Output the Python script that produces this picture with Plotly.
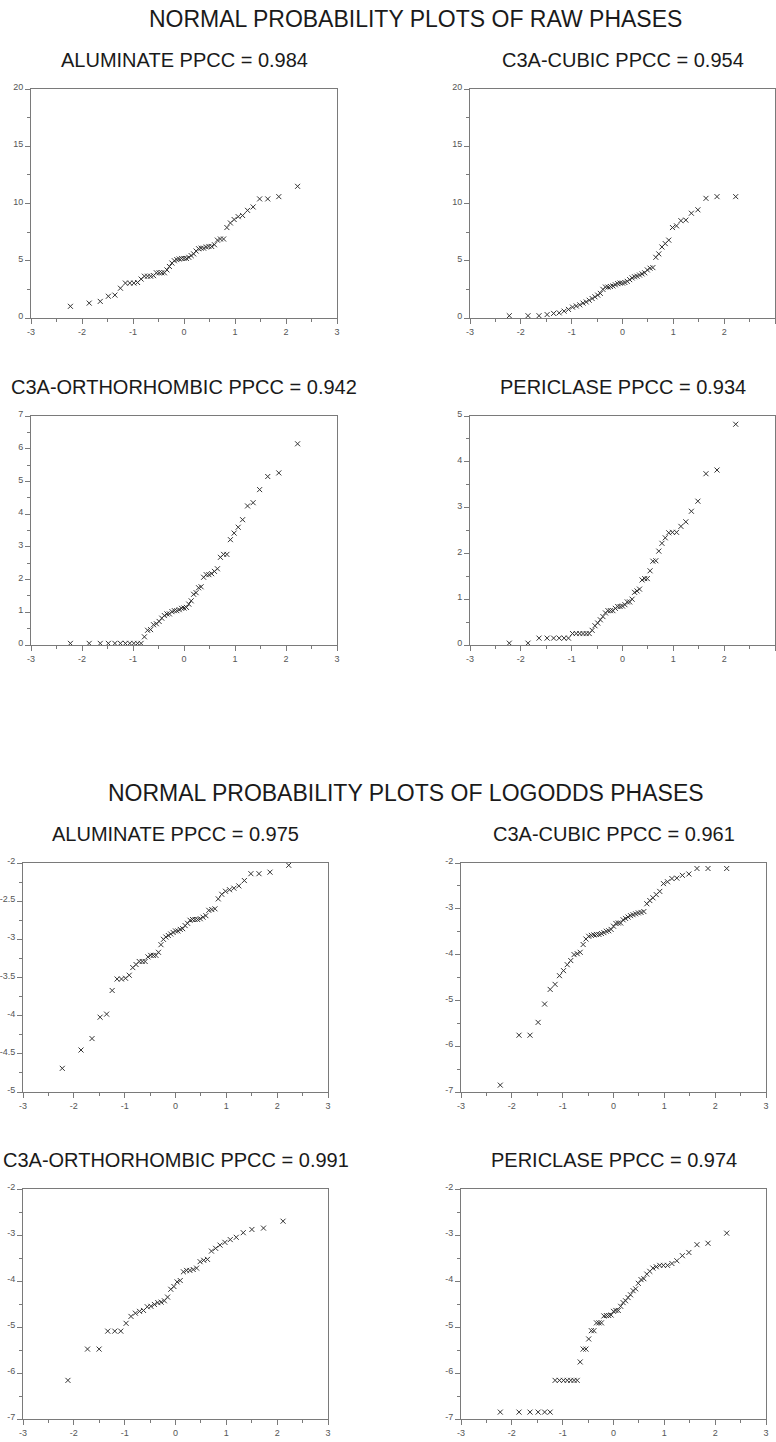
import plotly.graph_objects as go

W, H = 776, 1442

# ---------------- data ----------------
# theoretical normal order-statistic medians, n = 53
X53 = [-2.227, -1.859, -1.642, -1.483, -1.355, -1.246, -1.149, -1.063, -0.983, -0.910,
       -0.841, -0.776, -0.714, -0.655, -0.597, -0.542, -0.488, -0.436, -0.385, -0.335,
       -0.286, -0.237, -0.189, -0.141, -0.094, -0.047, 0.0, 0.047, 0.094, 0.141,
       0.189, 0.237, 0.286, 0.335, 0.385, 0.436, 0.488, 0.542, 0.597, 0.655,
       0.714, 0.776, 0.841, 0.910, 0.983, 1.063, 1.149, 1.246, 1.355, 1.483,
       1.642, 1.859, 2.227]
# n = 40 (C3A-orthorhombic logodds)
X40 = [-2.116, -1.731, -1.503, -1.333, -1.195, -1.077, -0.972, -0.876, -0.789, -0.707,
       -0.629, -0.555, -0.484, -0.415, -0.348, -0.283, -0.219, -0.156, -0.093, -0.031,
       0.031, 0.093, 0.156, 0.219, 0.283, 0.348, 0.415, 0.484, 0.555, 0.629,
       0.707, 0.789, 0.876, 0.972, 1.077, 1.195, 1.333, 1.503, 1.731, 2.116]

raw_aluminate = [1.02, 1.3, 1.45, 1.9, 2.0, 2.6, 3.05, 3.05, 3.05, 3.1,
                 3.4, 3.65, 3.65, 3.65, 3.7, 3.95, 3.95, 3.95, 3.95, 4.2,
                 4.5, 4.8, 5.0, 5.1, 5.15, 5.2, 5.2, 5.2, 5.3, 5.45,
                 5.6, 5.85, 6.05, 6.1, 6.1, 6.2, 6.25, 6.25, 6.4, 6.8,
                 6.9, 6.9, 7.9, 8.3, 8.6, 8.85, 8.95, 9.4, 9.7, 10.4,
                 10.4, 10.6, 11.5]
raw_c3a_cubic = [0.2, 0.2, 0.2, 0.3, 0.4, 0.45, 0.6, 0.75, 0.95, 1.05,
                 1.15, 1.3, 1.4, 1.55, 1.7, 1.85, 2.0, 2.15, 2.5, 2.7,
                 2.7, 2.75, 2.8, 2.9, 3.0, 3.05, 3.05, 3.1, 3.2, 3.35,
                 3.5, 3.6, 3.65, 3.75, 3.85, 3.95, 4.2, 4.35, 4.4, 5.3,
                 5.6, 6.2, 6.5, 6.8, 7.9, 8.05, 8.5, 8.55, 9.15, 9.45,
                 10.45, 10.6, 10.6]
raw_c3a_ortho = [0.05, 0.05, 0.05, 0.05, 0.05, 0.05, 0.05, 0.05, 0.05, 0.05,
                 0.05, 0.25, 0.45, 0.47, 0.62, 0.65, 0.72, 0.82, 0.9, 0.95,
                 0.95, 1.02, 1.05, 1.05, 1.08, 1.12, 1.13, 1.15, 1.25, 1.35,
                 1.55, 1.6, 1.75, 1.78, 2.07, 2.15, 2.15, 2.18, 2.25, 2.33,
                 2.68, 2.77, 2.77, 3.22, 3.42, 3.6, 3.83, 4.25, 4.35, 4.75,
                 5.15, 5.26, 6.15]
raw_periclase = [0.04, 0.04, 0.15, 0.15, 0.15, 0.15, 0.15, 0.15, 0.25, 0.25,
                 0.25, 0.25, 0.25, 0.25, 0.32, 0.42, 0.48, 0.55, 0.62, 0.7,
                 0.75, 0.75, 0.75, 0.8, 0.84, 0.84, 0.85, 0.88, 0.94, 0.94,
                 1.0, 1.15, 1.18, 1.22, 1.42, 1.45, 1.45, 1.62, 1.83, 1.84,
                 2.05, 2.22, 2.34, 2.45, 2.46, 2.46, 2.59, 2.69, 2.92, 3.14,
                 3.74, 3.82, 4.82]
lo_aluminate = [-4.69, -4.45, -4.30, -4.02, -3.98, -3.67, -3.52, -3.52, -3.51, -3.47,
                -3.37, -3.33, -3.29, -3.29, -3.29, -3.23, -3.21, -3.21, -3.21, -3.17,
                -3.07, -3.0, -2.97, -2.95, -2.93, -2.91, -2.89, -2.89, -2.87, -2.86,
                -2.82, -2.79, -2.75, -2.74, -2.74, -2.74, -2.73, -2.71, -2.69, -2.62,
                -2.61, -2.6, -2.47, -2.41, -2.37, -2.35, -2.33, -2.3, -2.23, -2.14,
                -2.14, -2.12, -2.03]
lo_c3a_cubic = [-6.85, -5.76, -5.76, -5.48, -5.08, -4.76, -4.65, -4.46, -4.35, -4.22,
                -4.13, -4.0, -3.98, -3.95, -3.78, -3.66, -3.60, -3.58, -3.57, -3.56,
                -3.56, -3.54, -3.52, -3.49, -3.48, -3.45, -3.38, -3.32, -3.31, -3.31,
                -3.24, -3.21, -3.18, -3.15, -3.13, -3.11, -3.09, -3.08, -3.06, -2.89,
                -2.82, -2.76, -2.69, -2.62, -2.45, -2.41, -2.34, -2.33, -2.27, -2.24,
                -2.12, -2.12, -2.12]
lo_c3a_ortho = [-6.16, -5.48, -5.48, -5.09, -5.09, -5.09, -4.92, -4.77, -4.70, -4.66,
                -4.64, -4.56, -4.55, -4.51, -4.47, -4.46, -4.43, -4.35, -4.18, -4.12,
                -4.02, -3.99, -3.80, -3.77, -3.77, -3.75, -3.72, -3.58, -3.55, -3.53,
                -3.35, -3.29, -3.22, -3.16, -3.10, -3.05, -2.95, -2.88, -2.85, -2.70]
lo_periclase = [-6.85, -6.85, -6.85, -6.85, -6.85, -6.85, -6.16, -6.16, -6.16, -6.16,
                -6.16, -6.16, -6.16, -5.76, -5.48, -5.48, -5.26, -5.08, -5.08, -4.91,
                -4.91, -4.91, -4.76, -4.75, -4.75, -4.74, -4.66, -4.64, -4.64, -4.55,
                -4.47, -4.43, -4.36, -4.30, -4.21, -4.17, -4.05, -3.97, -3.95, -3.85,
                -3.79, -3.72, -3.69, -3.66, -3.66, -3.66, -3.62, -3.56, -3.45, -3.38,
                -3.21, -3.18, -2.96]

titles_main = ["NORMAL PROBABILITY PLOTS OF RAW PHASES",
               "NORMAL PROBABILITY PLOTS OF LOGODDS PHASES"]
panel_titles = ["ALUMINATE PPCC = 0.984", "C3A-CUBIC PPCC = 0.954",
                "C3A-ORTHORHOMBIC PPCC = 0.942", "PERICLASE PPCC = 0.934",
                "ALUMINATE PPCC = 0.975", "C3A-CUBIC PPCC = 0.961",
                "C3A-ORTHORHOMBIC PPCC = 0.991", "PERICLASE PPCC = 0.974"]

x_tickvals = [-3, -2, -1, 0, 1, 2, 3]
x_ticktext = ["-3", "-2", "-1", "0", "1", "2", "3"]
y_ticks_raw12 = ([0, 5, 10, 15, 20], ["0", "5", "10", "15", "20"])
y_ticks_raw3 = ([0, 1, 2, 3, 4, 5, 6, 7], ["0", "1", "2", "3", "4", "5", "6", "7"])
y_ticks_raw4 = ([0, 1, 2, 3, 4, 5], ["0", "1", "2", "3", "4", "5"])
y_ticks_lo5 = ([-5, -4.5, -4, -3.5, -3, -2.5, -2],
               ["-5", "-4.5", "-4", "-3.5", "-3", "-2.5", "-2"])
y_ticks_lo7 = ([-7, -6, -5, -4, -3, -2], ["-7", "-6", "-5", "-4", "-3", "-2"])

# ---------------- layout geometry (pixels) ----------------
panels = [
    dict(x=X53, y=raw_aluminate, box=(31, 337, 89, 318), yr=(0, 20), yt=y_ticks_raw12, ym=2.5),
    dict(x=X53, y=raw_c3a_cubic, box=(470, 775, 89, 318), yr=(0, 20), yt=y_ticks_raw12, ym=2.5),
    dict(x=X53, y=raw_c3a_ortho, box=(31, 337, 416, 645), yr=(0, 7), yt=y_ticks_raw3, ym=0.5),
    dict(x=X53, y=raw_periclase, box=(470, 775, 416, 645), yr=(0, 5), yt=y_ticks_raw4, ym=0.5),
    dict(x=X53, y=lo_aluminate, box=(23, 328, 863, 1092), yr=(-5, -2), yt=y_ticks_lo5, ym=0.25),
    dict(x=X53, y=lo_c3a_cubic, box=(461, 766, 863, 1092), yr=(-7, -2), yt=y_ticks_lo7, ym=0.5),
    dict(x=X40, y=lo_c3a_ortho, box=(23, 328, 1189, 1419), yr=(-7, -2), yt=y_ticks_lo7, ym=0.5),
    dict(x=X53, y=lo_periclase, box=(461, 766, 1189, 1419), yr=(-7, -2), yt=y_ticks_lo7, ym=0.5),
]

AX_COLOR = "#7a7a7a"
TICK_FONT = dict(family="Liberation Sans, Arial, sans-serif", size=9, color="#555555")
TXT_FONT = "Liberation Sans, Arial, Helvetica, sans-serif"

fig = go.Figure()
annotations = []
layout_axes = {}
for i, p in enumerate(panels, start=1):
    x0, x1, y0, y1 = p["box"]
    xa = "x" if i == 1 else f"x{i}"
    ya = "y" if i == 1 else f"y{i}"
    fig.add_trace(go.Scatter(
        x=p["x"], y=p["y"], mode="markers", xaxis=xa, yaxis=ya,
        marker=dict(symbol="x-thin-open", size=5, color="#333333",
                    line=dict(width=1, color="#333333")),
        showlegend=False, hoverinfo="x+y"))
    common = dict(showline=True, linecolor=AX_COLOR, linewidth=1, mirror=True,
                  showgrid=False, zeroline=False, ticks="outside", ticklen=5,
                  tickwidth=1, tickcolor=AX_COLOR, tickfont=TICK_FONT,
                  automargin=False, tickmode="array")
    layout_axes["xaxis" if i == 1 else f"xaxis{i}"] = dict(
        common, domain=[x0 / W, x1 / W], range=[-3, 3], anchor=ya,
        tickvals=x_tickvals, ticktext=x_ticktext,
        minor=dict(tickmode="linear", tick0=-3, dtick=0.5, ticks="outside",
                   ticklen=3, tickcolor=AX_COLOR, showgrid=False))
    layout_axes["yaxis" if i == 1 else f"yaxis{i}"] = dict(
        common, domain=[1 - y1 / H, 1 - y0 / H], range=list(p["yr"]), anchor=xa,
        tickvals=p["yt"][0], ticktext=p["yt"][1], ticklabelshift=-2,
        minor=dict(tickmode="linear", tick0=p["yr"][0], dtick=p["ym"], ticks="outside",
                   ticklen=3, tickcolor=AX_COLOR, showgrid=False))
    annotations.append(dict(
        text=panel_titles[i - 1], xref="paper", yref="paper",
        x=((x0 + x1) / 2) / W, y=1 - (y0 - 29) / H, xanchor="center", yanchor="middle",
        showarrow=False, font=dict(family=TXT_FONT, size=20, color="#1a1a1a")))

annotations.append(dict(text=titles_main[0], xref="paper", yref="paper",
                        x=415 / W, y=1 - 19 / H, xanchor="center", yanchor="middle",
                        showarrow=False, font=dict(family=TXT_FONT, size=23, color="#1a1a1a")))
annotations.append(dict(text=titles_main[1], xref="paper", yref="paper",
                        x=406 / W, y=1 - 793 / H, xanchor="center", yanchor="middle",
                        showarrow=False, font=dict(family=TXT_FONT, size=23, color="#1a1a1a")))

fig.update_layout(
    width=W, height=H, margin=dict(l=0, r=0, t=0, b=0),
    paper_bgcolor="white", plot_bgcolor="white",
    annotations=annotations, **layout_axes)

fig.write_html("out.html")
